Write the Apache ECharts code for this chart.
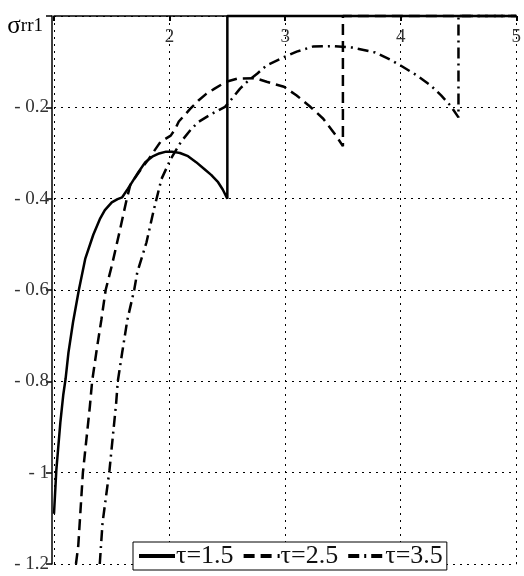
<!DOCTYPE html>
<html>
<head>
<meta charset="utf-8">
<script src="https://cdn.jsdelivr.net/npm/echarts@6/dist/echarts.min.js"></script>
<style>
  html, body { margin: 0; padding: 0; background: #fff; }
  #chart { width: 524px; height: 576px; }
</style>
</head>
<body>
<div id="chart"></div>
<script>
// values (x = r, y = sigma_rr1)
var names = ['τ=1.5', 'τ=2.5', 'τ=3.5']

var tau15X = [1.0, 1.02, 1.055, 1.08, 1.1, 1.125, 1.165, 1.215, 1.27, 1.34, 1.4, 1.44, 1.5, 1.55, 1.59, 1.64, 1.68, 1.73, 1.79, 1.85, 1.91, 1.97, 2.02, 2.09, 2.16, 2.23, 2.3, 2.36, 2.42, 2.46, 2.5, 2.5, 5.0]
var tau15Y = [-1.09, -0.995, -0.89, -0.83, -0.795, -0.737, -0.67, -0.6, -0.532, -0.479, -0.443, -0.425, -0.408, -0.401, -0.397, -0.378, -0.362, -0.342, -0.32, -0.308, -0.301, -0.297, -0.297, -0.3, -0.307, -0.32, -0.335, -0.348, -0.364, -0.38, -0.4, 0, 0]

var tau25X = [1.19, 1.21, 1.25, 1.31, 1.33, 1.37, 1.41, 1.447, 1.5, 1.566, 1.63, 1.66, 1.7, 1.76, 1.82, 1.92, 2.01, 2.05, 2.08, 2.18, 2.25, 2.32, 2.39, 2.49, 2.59, 2.74, 2.84, 2.99, 3.1, 3.21, 3.33, 3.44, 3.5, 3.5, 5.0]
var tau25Y = [-1.2, -1.16, -1.0, -0.856, -0.8, -0.73, -0.665, -0.6, -0.547, -0.474, -0.4, -0.37, -0.355, -0.333, -0.313, -0.276, -0.262, -0.247, -0.231, -0.203, -0.185, -0.17, -0.159, -0.144, -0.137, -0.136, -0.144, -0.155, -0.174, -0.197, -0.225, -0.262, -0.285, 0, 0]

var tau35X = [1.396, 1.42, 1.48, 1.538, 1.552, 1.59, 1.635, 1.694, 1.72, 1.8, 1.865, 1.93, 2.01, 2.1, 2.19, 2.25, 2.36, 2.48, 2.55, 2.61, 2.68, 2.76, 2.84, 3.0, 3.1, 3.24, 3.41, 3.58, 3.69, 3.78, 3.92, 4.01, 4.14, 4.26, 4.35, 4.43, 4.5, 4.5, 5.0]
var tau35Y = [-1.2, -1.11, -0.995, -0.847, -0.8, -0.737, -0.665, -0.6, -0.562, -0.496, -0.423, -0.357, -0.313, -0.275, -0.247, -0.232, -0.215, -0.199, -0.178, -0.159, -0.142, -0.126, -0.108, -0.089, -0.078, -0.067, -0.066, -0.069, -0.075, -0.08, -0.097, -0.11, -0.13, -0.152, -0.174, -0.196, -0.222, 0, 0]

var xMin = 1, xMax = 5, xStep = 1
var yMin = -1.2, yMax = 0, yStep = 0.2

function pairs(xs, ys) {
  return xs.map(function(x, i) { return [x, ys[i]] })
}

var serif = 'Liberation Serif'
var dotted = { color: '#000', width: 1, type: [2, 5] }

var chart = echarts.init(document.getElementById('chart'))
chart.setOption({
  animation: false,
  grid: { left: 54, right: 0, top: 16, bottom: 12 },
  legend: {
    data: names,
    left: 133,
    bottom: 6,
    itemWidth: 36,
    itemHeight: 14,
    itemGap: 8,
    padding: [1, 4, 1, 4],
    borderColor: '#000',
    borderWidth: 1,
    borderRadius: 0,
    backgroundColor: '#fff',
    itemStyle: { opacity: 0 },
    lineStyle: { width: 4 },
    textStyle: { fontFamily: serif, fontSize: 26, color: '#111', padding: [0, 0, 0, -4] }
  },
  xAxis: {
    type: 'value',
    position: 'top',
    min: xMin,
    max: xMax,
    interval: xStep,
    axisLine: { show: true, onZero: false, lineStyle: { color: '#000', width: 1.5 } },
    axisTick: { show: true, inside: true, length: 5, lineStyle: { color: '#000', width: 2 } },
    axisLabel: {
      inside: true,
      margin: 12,
      fontFamily: serif,
      fontSize: 19,
      color: '#333',
      formatter: function(v) { return v === xMin ? '' : String(v) }
    },
    splitLine: { show: true, lineStyle: dotted }
  },
  yAxis: {
    type: 'value',
    min: yMin,
    max: yMax,
    interval: yStep,
    offset: 2,
    name: '{s|σ}{r|rr1}',
    nameLocation: 'end',
    nameGap: -10,
    nameTextStyle: {
      align: 'right',
      verticalAlign: 'middle',
      padding: [0, 9, 0, 0],
      rich: {
        s: { fontFamily: serif, fontSize: 25, color: '#000' },
        r: { fontFamily: serif, fontSize: 19, color: '#000' }
      }
    },
    axisLine: { show: true, lineStyle: { color: '#000', width: 1.5 } },
    axisTick: { show: true, length: 6, lineStyle: { color: '#000', width: 1.5 } },
    axisLabel: {
      margin: 3,
      fontFamily: serif,
      fontSize: 19,
      color: '#333',
      formatter: function(v) {
        if (v === 0) return ''
        return '- ' + String(Math.round(-v * 10) / 10)
      }
    },
    splitLine: { show: true, lineStyle: dotted }
  },
  series: [
    {
      name: names[0],
      type: 'line',
      data: pairs(tau15X, tau15Y),
      showSymbol: false,
      symbol: 'none',
      clip: false,
      lineStyle: { color: '#000', width: 2.5, type: 'solid' },
      itemStyle: { color: '#000' }
    },
    {
      name: names[1],
      type: 'line',
      data: pairs(tau25X, tau25Y),
      showSymbol: false,
      symbol: 'none',
      clip: false,
      lineStyle: { color: '#000', width: 2.5, type: [11, 6] },
      itemStyle: { color: '#000' }
    },
    {
      name: names[2],
      type: 'line',
      data: pairs(tau35X, tau35Y),
      showSymbol: false,
      symbol: 'none',
      clip: false,
      lineStyle: { color: '#000', width: 2.5, type: [11, 5, 2, 5] },
      itemStyle: { color: '#000' }
    }
  ]
})
</script>
</body>
</html>
